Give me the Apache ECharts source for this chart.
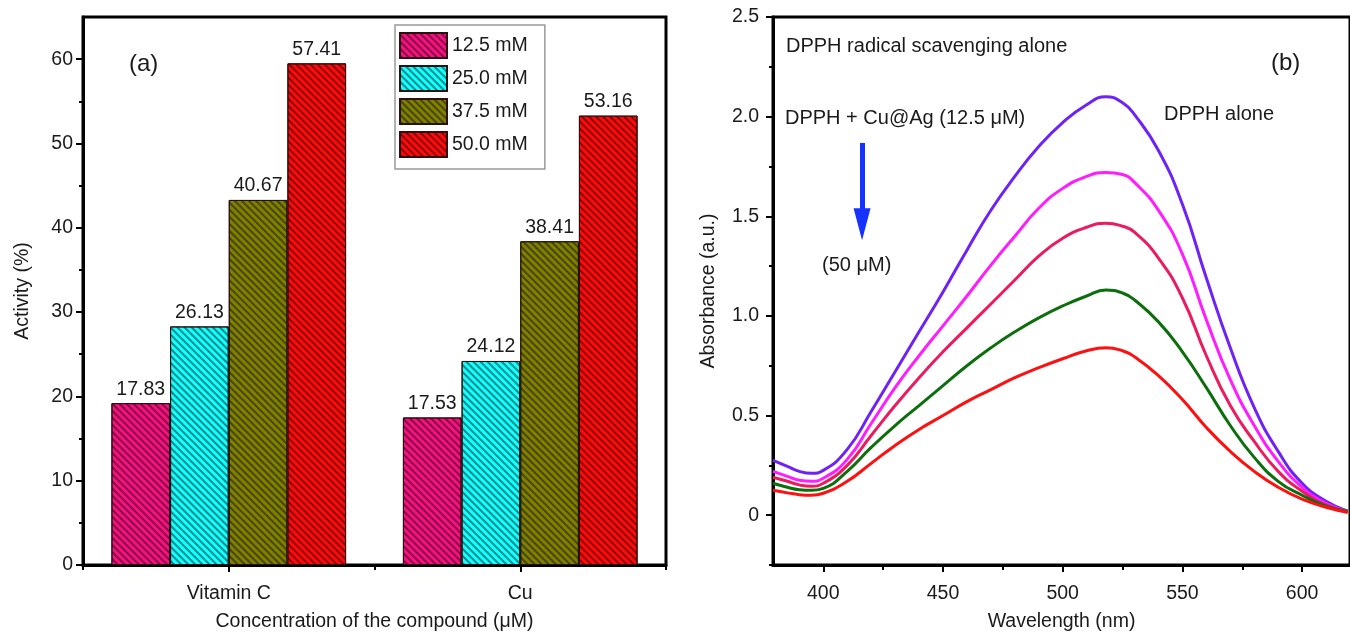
<!DOCTYPE html>
<html><head><meta charset="utf-8">
<script src="https://cdn.jsdelivr.net/npm/echarts@6/dist/echarts.min.js"></script>
<style>html,body{margin:0;padding:0;background:#fff}#c{width:1350px;height:637px}</style>
</head><body><div id="c"></div>
<script>
// ---------- Panel (a): bar data ----------
const categories = ['Vitamin C', 'Cu'];
const concNames = ['12.5 mM', '25.0 mM', '37.5 mM', '50.0 mM'];
const bar12_5 = [19.2, 17.5];
const bar25_0 = [28.3, 24.2];
const bar37_5 = [43.3, 38.4];
const bar50_0 = [59.5, 53.3];
const label12_5 = ['17.83', '17.53'];
const label25_0 = ['26.13', '24.12'];
const label37_5 = ['40.67', '38.41'];
const label50_0 = ['57.41', '53.16'];
const activityTicks = [0, 10, 20, 30, 40, 50, 60];
const activityMinorTicks = [5, 15, 25, 35, 45, 55];

// ---------- Panel (b): UV-vis spectra ----------
const wavelengths = [379,385,390,395,400,410,420,430,440,450,460,470,480,490,500,510,518,525,530,540,550,560,570,580,590,600,610,619];
const absAlone = [0.275,0.245,0.22,0.21,0.225,0.33,0.52,0.72,0.92,1.12,1.33,1.53,1.70,1.85,1.97,2.06,2.10,2.07,2.01,1.83,1.56,1.19,0.84,0.54,0.32,0.16,0.07,0.02];
const abs12_5 = [0.22,0.195,0.175,0.17,0.185,0.28,0.46,0.64,0.80,0.95,1.10,1.255,1.40,1.54,1.64,1.70,1.72,1.71,1.67,1.53,1.31,0.98,0.68,0.45,0.27,0.14,0.06,0.02];
const abs25 = [0.19,0.17,0.152,0.145,0.16,0.25,0.40,0.55,0.69,0.82,0.94,1.06,1.18,1.30,1.39,1.445,1.465,1.45,1.42,1.29,1.09,0.80,0.55,0.37,0.22,0.12,0.05,0.015];
const abs37_5 = [0.16,0.14,0.128,0.125,0.135,0.22,0.34,0.45,0.55,0.65,0.75,0.84,0.92,0.99,1.05,1.10,1.13,1.115,1.08,0.97,0.82,0.64,0.45,0.29,0.17,0.10,0.045,0.02];
const abs50 = [0.125,0.112,0.103,0.10,0.11,0.17,0.26,0.35,0.43,0.50,0.57,0.63,0.69,0.74,0.785,0.825,0.84,0.825,0.795,0.70,0.58,0.44,0.32,0.22,0.14,0.08,0.04,0.015];
const wlTicks = [400, 450, 500, 550, 600];
const wlMinorTicks = [425, 475, 525, 575];
const absTicks = [0, 0.5, 1.0, 1.5, 2.0, 2.5];
const absMinorTicks = [-0.25, 0.25, 0.75, 1.25, 1.75, 2.25];
const arrowStart = [416.2, 1.868];
const arrowEnd = [416.2, 1.46];

const FONT = "'Liberation Sans', Arial, sans-serif";
const TXT = '#1a1a1a';

const barColors = ['#f7107f', '#14ffff', '#808000', '#ff0a0a'];
const barSets = [bar12_5, bar25_0, bar37_5, bar50_0];
const labelSets = [label12_5, label25_0, label37_5, label50_0];

const lineSets = [
  {name: 'DPPH alone', data: absAlone, color: '#6f22f5'},
  {name: '12.5 μM', data: abs12_5, color: '#ff1cff'},
  {name: '25 μM', data: abs25, color: '#ea1b5f'},
  {name: '37.5 μM', data: abs37_5, color: '#0d6e0d'},
  {name: '50 μM', data: abs50, color: '#ff1010'}
];

const axisLineStyle = {show: true, onZero: false, lineStyle: {color: '#000', width: 3}};
const tickStyle = {color: '#000', width: 2};

const series = [];
barSets.forEach((arr, i) => {
  series.push({
    type: 'bar', name: concNames[i], xAxisIndex: 0, yAxisIndex: 0,
    data: arr, barGap: '0%', barCategoryGap: '19.5%',
    itemStyle: {
      color: barColors[i], borderColor: '#2a1010', borderWidth: 1,
      decal: {symbol: 'rect', symbolSize: 1, color: 'rgba(0,0,0,0.45)', dashArrayX: [1, 0], dashArrayY: [2, 3], rotation: Math.PI / 4}
    },
    label: {show: true, position: 'top', distance: 4, fontSize: 19.5, color: TXT, fontFamily: FONT,
      formatter: p => labelSets[i][p.dataIndex]}
  });
});
lineSets.forEach((s, i) => {
  const obj = {
    type: 'line', name: s.name, xAxisIndex: 1, yAxisIndex: 1,
    data: wavelengths.map((w, k) => [w, s.data[k]]),
    smooth: 0.5, showSymbol: false, symbol: 'none',
    lineStyle: {color: s.color, width: 3}, itemStyle: {color: s.color}
  };
  if (i === 0) {
    obj.markLine = {
      silent: true, animation: false,
      symbol: ['none', 'triangle'], symbolSize: [17, 32],
      lineStyle: {color: '#1532ff', width: 5, type: 'solid'},
      label: {show: false},
      data: [[{coord: arrowStart}, {coord: arrowEnd}]]
    };
  }
  series.push(obj);
});

const chart = echarts.init(document.getElementById('c'), null, {renderer: 'canvas'});
chart.setOption({
  animation: false,
  aria: {enabled: true, decal: {show: true}},
  textStyle: {fontFamily: FONT, color: TXT},
  grid: [
    {left: 83, top: 17, width: 583, height: 548, show: true, borderColor: '#000', borderWidth: 3, backgroundColor: 'transparent'},
    {left: 773, top: 17, right: -6, height: 548, show: true, borderColor: '#000', borderWidth: 3, backgroundColor: 'transparent'}
  ],
  legend: {
    orient: 'vertical', left: 395, top: 25, data: concNames, icon: 'rect',
    itemWidth: 47, itemHeight: 25, itemGap: 6, padding: [7, 17, 11, 4],
    borderColor: '#999', borderWidth: 1.5, backgroundColor: '#fff',
    textStyle: {fontSize: 19.5, color: TXT, fontFamily: FONT}
  },
  xAxis: [
    {gridIndex: 0, type: 'category', data: categories, position: 'bottom',
      axisLine: axisLineStyle, axisTick: {show: true, alignWithLabel: true, length: 7, lineStyle: tickStyle},
      axisLabel: {fontSize: 19.5, color: TXT, margin: 19},
      name: 'Concentration of the compound (μM)', nameLocation: 'middle', nameGap: 47,
      nameTextStyle: {fontSize: 19.5, color: TXT}},
    {gridIndex: 1, type: 'value', min: 379, max: 620, position: 'bottom',
      axisLine: axisLineStyle, axisTick: {show: true, length: 7, lineStyle: tickStyle, customValues: wlTicks},
      axisLabel: {fontSize: 19.5, color: TXT, margin: 19, customValues: wlTicks},
      splitLine: {show: false},
      name: 'Wavelength (nm)', nameLocation: 'middle', nameGap: 47,
      nameTextStyle: {fontSize: 19.5, color: TXT}},
    {gridIndex: 0, type: 'category', data: ['', ''], position: 'bottom',
      axisLine: {show: false, onZero: false}, axisTick: {show: true, length: 5, lineStyle: tickStyle},
      axisLabel: {show: false}},
    {gridIndex: 1, type: 'value', min: 379, max: 620, position: 'bottom',
      axisLine: {show: false, onZero: false}, axisTick: {show: true, length: 5, lineStyle: tickStyle, customValues: wlMinorTicks},
      axisLabel: {show: false}, splitLine: {show: false}}
  ],
  yAxis: [
    {gridIndex: 0, type: 'value', min: 0, max: 65, position: 'left',
      axisLine: axisLineStyle, axisTick: {show: true, length: 7, lineStyle: tickStyle, customValues: activityTicks},
      axisLabel: {fontSize: 19.5, color: TXT, margin: 10, customValues: activityTicks},
      splitLine: {show: false},
      name: 'Activity (%)', nameLocation: 'middle', nameGap: 50,
      nameTextStyle: {fontSize: 19.5, color: TXT}},
    {gridIndex: 1, type: 'value', min: -0.25, max: 2.5, position: 'left',
      axisLine: axisLineStyle, axisTick: {show: true, length: 7, lineStyle: tickStyle, customValues: absTicks},
      axisLabel: {fontSize: 19.5, color: TXT, margin: 14, customValues: absTicks,
        formatter: v => (v === 0 ? '0' : v.toFixed(1))},
      splitLine: {show: false},
      name: 'Absorbance (a.u.)', nameLocation: 'middle', nameGap: 54,
      nameTextStyle: {fontSize: 19.5, color: TXT}},
    {gridIndex: 0, type: 'value', min: 0, max: 65, position: 'left',
      axisLine: {show: false, onZero: false}, axisTick: {show: true, length: 4, lineStyle: tickStyle, customValues: activityMinorTicks},
      axisLabel: {show: false}, splitLine: {show: false}},
    {gridIndex: 1, type: 'value', min: -0.25, max: 2.5, position: 'left',
      axisLine: {show: false, onZero: false}, axisTick: {show: true, length: 4, lineStyle: tickStyle, customValues: absMinorTicks},
      axisLabel: {show: false}, splitLine: {show: false}}
  ],
  graphic: [
    {type: 'text', left: 129, top: 52, style: {text: '(a)', font: '24px ' + FONT, fill: TXT}},
    {type: 'text', left: 1271, top: 51, style: {text: '(b)', font: '24px ' + FONT, fill: TXT}},
    {type: 'text', left: 786, top: 36, style: {text: 'DPPH radical scavenging alone', font: '20px ' + FONT, fill: TXT}},
    {type: 'text', left: 785, top: 108, style: {text: 'DPPH + Cu@Ag (12.5 μM)', font: '20px ' + FONT, fill: TXT}},
    {type: 'text', left: 822, top: 255, style: {text: '(50 μM)', font: '20px ' + FONT, fill: TXT}},
    {type: 'text', left: 1164, top: 104, style: {text: 'DPPH alone', font: '20px ' + FONT, fill: TXT}}
  ],
  series: series
});
</script>
</body></html>
